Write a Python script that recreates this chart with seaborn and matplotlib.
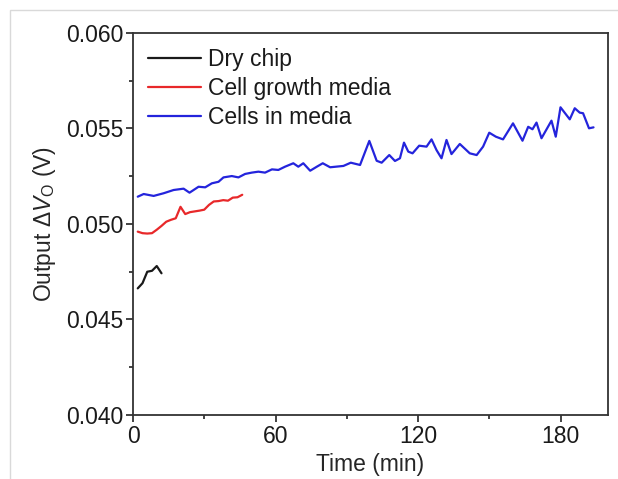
import matplotlib
matplotlib.use('AGG')
import matplotlib.pyplot as plt
from matplotlib.patches import Rectangle
from matplotlib.ticker import MultipleLocator
import seaborn as sns
import pandas as pd

# data
dry_time = [2, 4, 6, 8, 10, 12]
dry_volt = [0.04663, 0.04690, 0.04750, 0.04755, 0.04780, 0.04742]

media_time = [2, 4, 6, 8, 10, 12, 14, 16, 18, 20, 22, 24, 26, 28, 30,
              32, 34, 36, 38, 40, 42, 44, 46]
media_volt = [0.04960, 0.04952, 0.04950, 0.04952, 0.04970, 0.04990, 0.05012,
              0.05022, 0.05030, 0.05090, 0.05052, 0.05062, 0.05066, 0.05070,
              0.05075, 0.05100, 0.05118, 0.05120, 0.05125, 0.05122, 0.05138,
              0.05140, 0.05153]

cells_time = [2, 4.5, 8.7, 12.9, 17.1, 21.3, 23.8, 27.6, 30.4, 33.2, 36, 38.1,
              41.6, 44.4, 47.2, 50, 52.8, 55.6, 58.5, 61.2, 64, 67.5, 69.6,
              71.7, 74.6, 77.4, 79.9, 83, 88.6, 91.7, 95.6, 99.5, 102.6,
              104.7, 107.9, 110.3, 112.4, 114.1, 115.9, 117.7, 120.5, 123.6,
              125.7, 127.8, 129.9, 132, 134.1, 137.6, 141.8, 144.7, 147.4,
              150, 152.8, 155.8, 160, 164, 166.4, 168.2, 169.9, 172, 176.2,
              178, 180, 183.9, 186, 188.1, 189.5, 192, 193.9]
cells_volt = [0.05143, 0.05157, 0.05147, 0.05161, 0.05178, 0.05185, 0.05164,
              0.05195, 0.05192, 0.05213, 0.05221, 0.05244, 0.05251, 0.05244,
              0.05262, 0.05269, 0.05274, 0.05269, 0.05286, 0.05283, 0.05300,
              0.05318, 0.05300, 0.05318, 0.05279, 0.05300, 0.05318, 0.05297,
              0.05304, 0.05321, 0.05309, 0.05435, 0.05331, 0.05321, 0.05361,
              0.05330, 0.05344, 0.05426, 0.05379, 0.05370, 0.05410, 0.05405,
              0.05443, 0.05387, 0.05344, 0.05440, 0.05366, 0.05419, 0.05370,
              0.05361, 0.05405, 0.05478, 0.05457, 0.05443, 0.05527, 0.05436,
              0.05509, 0.05496, 0.05531, 0.05449, 0.05541, 0.05457, 0.05611,
              0.05548, 0.05606, 0.05583, 0.05580, 0.05501, 0.05506]

labels = ['Dry chip', 'Cell growth media', 'Cells in media']
colors = ['#1a1a1a', '#e8282a', '#2424dc']

frames = []
for lab, t, v in zip(labels, [dry_time, media_time, cells_time],
                     [dry_volt, media_volt, cells_volt]):
    frames.append(pd.DataFrame({'time': t, 'volt': v, 'sample': lab}))
df = pd.concat(frames, ignore_index=True)

sns.set_style('ticks')
plt.rcParams['font.family'] = ['Liberation Sans', 'DejaVu Sans']
plt.rcParams['mathtext.fontset'] = 'custom'
plt.rcParams['mathtext.rm'] = 'Liberation Sans'
plt.rcParams['mathtext.it'] = 'Liberation Sans:italic'
plt.rcParams['text.color'] = '#1a1a1a'
plt.rcParams['xtick.labelcolor'] = '#1a1a1a'
plt.rcParams['ytick.labelcolor'] = '#1a1a1a'
fs = 16.5

fig = plt.figure(figsize=(6.18, 4.79), dpi=100)
ax = fig.add_axes([133 / 618, 1 - 415 / 479, 475 / 618, 382 / 479])

sns.lineplot(data=df, x='time', y='volt', hue='sample', hue_order=labels,
             palette=colors, linewidth=1.6, estimator=None, sort=False, ax=ax)

ax.set_xlim(0, 200)
ax.set_ylim(0.040, 0.060)
ax.xaxis.set_major_locator(MultipleLocator(60))
ax.xaxis.set_minor_locator(MultipleLocator(30))
ax.yaxis.set_major_locator(MultipleLocator(0.005))
ax.yaxis.set_minor_locator(MultipleLocator(0.0025))
ax.yaxis.set_major_formatter(matplotlib.ticker.FormatStrFormatter('%.3f'))
ax.tick_params(which='major', length=5, width=1.2, labelsize=fs, color='#222222', pad=2)
ax.tick_params(which='minor', length=3, width=1.2, color='#222222')
for s in ax.spines.values():
    s.set_linewidth(1.3)
    s.set_color('#333333')

ax.set_xlabel('Time (min)', fontsize=fs, labelpad=4)
ax.set_ylabel(r'Output Δ$\it{V}_{\rm O}$ (V)', fontsize=fs, labelpad=6)

ax.legend(loc='upper left', frameon=False, fontsize=fs, handlelength=2.3,
          handletextpad=0.3, labelspacing=0.26, borderaxespad=0.35,
          borderpad=0.32)

# light frame around the picture
fig.patches.append(Rectangle((10 / 618, -0.02), 1.05, 1 - 10 / 479 + 0.02,
                             transform=fig.transFigure, fill=False,
                             edgecolor='#d9d9d9', linewidth=1.0))

plt.savefig('out.png', dpi=100)
